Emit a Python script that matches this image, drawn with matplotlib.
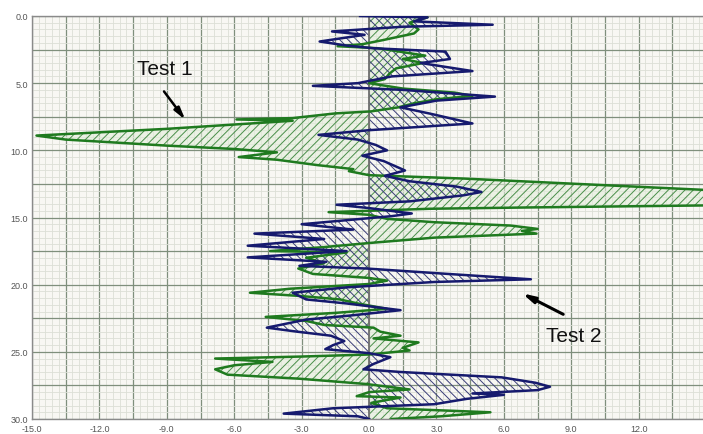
import matplotlib.pyplot as plt
import numpy as np
from matplotlib.ticker import FuncFormatter, MultipleLocator

# depth / value pairs
test1_depth = [0.0, 0.1, 0.5, 1.0, 1.3, 1.8, 2.1, 2.25, 2.4, 2.95, 3.2, 3.5, 3.9, 4.3, 4.7, 5.0,
               5.4, 5.7, 5.95, 6.2, 6.5, 6.8, 7.1, 7.25, 7.6, 7.7, 7.8, 8.4, 8.9, 9.2, 9.65, 9.9,
               10.15, 10.5, 10.7, 11.1, 11.4, 11.55, 11.85, 12.1, 12.95, 13.5, 14.1, 14.25, 14.35,
               14.6, 14.8, 15.1, 15.35, 15.6, 15.85, 16.0, 16.2, 16.5, 16.9, 17.2, 17.5, 17.6, 18.0,
               18.4, 18.8, 19.2, 19.5, 19.7, 19.95, 20.3, 20.6, 20.85, 21.1, 21.4, 21.8, 22.1, 22.4,
               22.7, 23.0, 23.2, 23.5, 23.8, 24.0, 24.3, 24.7, 24.9, 25.2, 25.35, 25.5, 25.75, 26.0,
               26.3, 26.7, 27.0, 27.4, 27.8, 28.0, 28.3, 28.4, 28.8, 29.2, 29.5, 29.8, 30.0]
test1_value = [1.2, 2.6, 1.8, 2.2, 2.0, 0.6, -0.3, -1.4, 0.4, 2.5, 1.5, 2.4, 1.2, 0.9, 0.7, 0.0,
               1.5, 3.8, 4.6, 3.0, 2.0, 1.3, 0.1, -1.5, -3.4, -5.9, -3.4, -9.0, -14.8, -13.5, -9.0, -6.0,
               -4.1, -5.8, -4.1, -2.3, -0.7, -0.9, 0.0, 4.2, 15.0, 16.5, 15.0, 7.2, 2.7,
               -1.8, 0.0, 0.8, 2.9, 6.3, 7.5, 6.8, 7.45, 2.9, 0.0, -2.0, -4.4, -1.0, -2.8,
               -2.0, -3.15, -2.5, 0.0, 0.8, 0.0, -3.5, -5.3, -3.0, -1.3, -0.5, 0.8, -1.5, -4.6,
               -2.8, -2.0, 0.2, 0.5, 1.4, 0.2, 2.2, 1.5, 1.8, 0.0, -3.0, -6.85, -4.3, -6.0,
               -6.85, -6.3, -3.1, -0.1, 1.8, 0.0, -0.55, 1.4, 0.1, 0.8, 5.4, 3.2, 1.0]

test2_depth = [0.0, 0.1, 0.4, 0.65, 0.8, 1.15, 1.4, 1.9, 2.2, 2.4, 2.65, 3.2, 3.5, 4.1, 4.5, 5.0,
               5.2, 5.5, 6.0, 6.3, 6.8, 7.3, 8.0, 8.5, 8.85, 9.2, 9.6, 10.0, 10.4, 10.8, 11.5, 11.9,
               12.3, 12.7, 13.1, 13.35, 13.8, 14.05, 14.3, 14.7, 14.9, 15.5, 15.9, 16.2, 16.6, 17.1,
               17.5, 17.97, 18.3, 18.6, 18.8, 19.2, 19.6, 19.8, 20.2, 20.6, 21.1, 21.4, 21.9, 22.3,
               22.6, 23.2, 23.5, 23.8, 24.2, 24.5, 24.8, 25.1, 25.4, 25.9, 26.3, 26.5, 26.9, 27.3,
               27.6, 27.85, 28.1, 28.2, 28.5, 28.9, 29.2, 29.6, 29.8, 30.0]
test2_value = [-0.4, 2.6, 2.0, 5.5, 1.5, -1.65, -0.2, -2.2, -1.0, 0.2, 3.4, 3.6, 2.3, 4.6, 1.0, -0.5,
               -2.5, 1.5, 5.6, 3.0, 1.4, 2.8, 4.6, 0.0, -2.25, -0.5, 0.3, 0.8, -0.3, 0.65, 1.6, 0.7,
               1.8, 3.9, 5.0, 4.2, 1.8, -1.45, 0.0, 1.9, 1.0, -3.0, -0.7, -5.1, -2.0, -5.4,
               -1.0, -5.4, -1.9, -3.1, -0.1, 3.5, 7.2, 2.9, -1.0, -3.4, -2.8, -1.0, 1.4, -0.85,
               -2.8, -4.55, -3.2, -1.7, -1.1, -1.6, -1.95, 0.0, 0.95, 0.2, -0.25, 1.4, 5.9, 7.4,
               8.05, 7.5, 4.6, 6.0, 4.35, 2.9, -1.6, -3.8, -0.5, 0.0]

x_ticks = [-15.0, -12.0, -9.0, -6.0, -3.0, 0.0, 3.0, 6.0, 9.0, 12.0]
y_ticks = [0.0, 5.0, 10.0, 15.0, 20.0, 25.0, 30.0]

GREEN = "#1f7a1f"
BLUE = "#161a6e"

plt.rcParams["hatch.linewidth"] = 0.7
plt.rcParams["font.family"] = ["Liberation Sans", "DejaVu Sans"]

fig = plt.figure(figsize=(7.03, 4.35), dpi=100)
ax = fig.add_axes([32 / 703, 15 / 435, 671 / 703, 403 / 435])
ax.set_facecolor("#f8f7f3")

d1 = np.array(test1_depth)
v1 = np.array(test1_value)
d2 = np.array(test2_depth)
v2 = np.array(test2_value)

ax.fill_betweenx(d1, 0, v1, facecolor="#e3eedb", edgecolor="none", alpha=0.6, zorder=2)
ax.fill_betweenx(d1, 0, v1, facecolor="none", edgecolor="#4a8f4a", hatch="////", linewidth=0, zorder=3)
ax.fill_betweenx(d2, 0, v2, facecolor="none", edgecolor="#3a3d78", hatch="\\\\\\\\", linewidth=0, zorder=3)

ax.axvline(0, color="#707070", lw=1.3, zorder=4)

ax.plot(v1, d1, color=GREEN, lw=1.8, zorder=5, solid_joinstyle="round")
ax.plot(v2, d2, color=BLUE, lw=1.8, zorder=6, solid_joinstyle="round")

ax.set_xlim(-15, 14.86)
ax.set_ylim(30, 0)

ax.xaxis.set_major_locator(MultipleLocator(1.5))
ax.xaxis.set_minor_locator(MultipleLocator(0.3))
ax.yaxis.set_major_locator(MultipleLocator(2.5))
ax.yaxis.set_minor_locator(MultipleLocator(0.5))

ax.xaxis.set_major_formatter(FuncFormatter(lambda v, p: f"{v:.1f}" if any(abs(v - t) < 1e-6 for t in x_ticks) else ""))
ax.yaxis.set_major_formatter(FuncFormatter(lambda v, p: f"{v:.1f}" if any(abs(v - t) < 1e-6 for t in y_ticks) else ""))

ax.grid(which="major", color="#7f8f7c", lw=0.9, zorder=1)
ax.grid(which="minor", color="#dcdfd6", lw=0.6, zorder=0.5)
ax.set_axisbelow(True)
ax.tick_params(which="both", length=0, labelsize=6.5, labelcolor="#555555")
ax.tick_params(axis="x", pad=3.5)
ax.tick_params(axis="y", pad=3)

for s in ax.spines.values():
    s.set_color("#8a8a8a")
    s.set_linewidth(1.0)
ax.spines["right"].set_visible(False)

ax.annotate("", xy=(-8.1, 7.9), xytext=(-9.2, 5.45),
            arrowprops=dict(arrowstyle="-|>,head_width=0.18,head_length=0.7", lw=1.8, color="black"), zorder=7)
ax.text(-9.1, 3.9, "Test 1", fontsize=15, ha="center", va="center", color="#111111", zorder=7)

ax.annotate("", xy=(6.7, 20.55), xytext=(8.75, 22.3),
            arrowprops=dict(arrowstyle="-|>,head_width=0.18,head_length=0.7", lw=2.2, color="black"), zorder=7)
ax.text(9.1, 23.8, "Test 2", fontsize=15, ha="center", va="center", color="#111111", zorder=7)

fig.savefig("out.png", dpi=100)
